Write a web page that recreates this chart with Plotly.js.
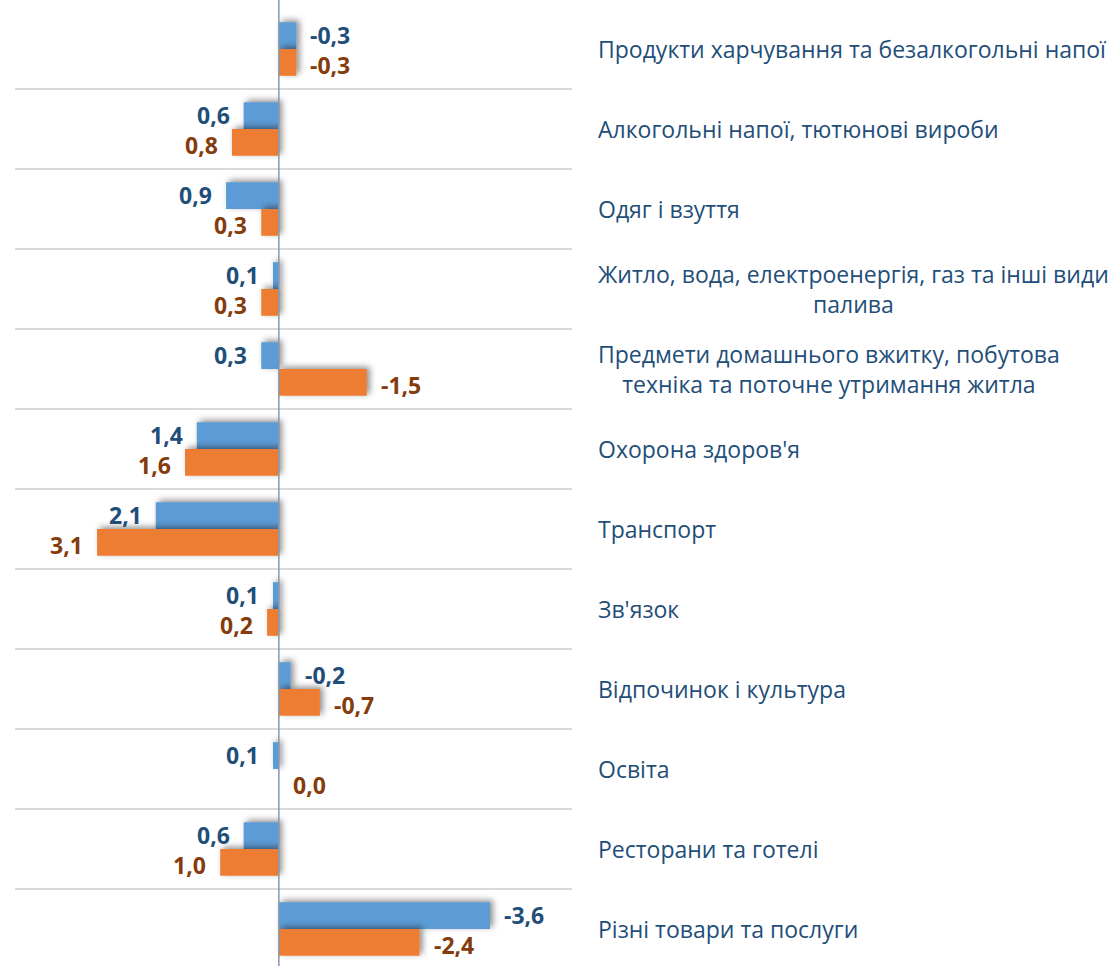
<!DOCTYPE html>
<html>
<head>
<meta charset="utf-8">
<script src="https://cdn.plot.ly/plotly-3.0.1.min.js"></script>
<style>
  html, body { margin: 0; padding: 0; overflow: hidden; background: #fff; }
  #chart .trace.bars .point path { filter: url(#barShadow); }
</style>
</head>
<body>
<svg width="0" height="0" style="position:absolute">
  <defs>
    <filter id="barShadow" filterUnits="userSpaceOnUse" x="-50" y="-50" width="1200" height="1100">
      <feDropShadow dx="3" dy="-2" stdDeviation="3" flood-color="#000" flood-opacity="0.45"/>
    </filter>
  </defs>
</svg>
<div id="chart"></div>
<script>
var categories = [
  "Продукти харчування та безалкогольні напої",
  "Алкогольні напої, тютюнові вироби",
  "Одяг і взуття",
  "Житло, вода, електроенергія, газ та інші види<br>палива",
  "Предмети домашнього вжитку, побутова<br>техніка та поточне утримання житла",
  "Охорона здоров'я",
  "Транспорт",
  "Зв'язок",
  "Відпочинок і культура",
  "Освіта",
  "Ресторани та готелі",
  "Різні товари та послуги"
];
var blueValues = [-0.3, 0.6, 0.9, 0.1, 0.3, 1.4, 2.1, 0.1, -0.2, 0.1, 0.6, -3.6];
var orangeValues = [-0.3, 0.8, 0.3, 0.3, -1.5, 1.6, 3.1, 0.2, -0.7, 0.0, 1.0, -2.4];

var font = "Open Sans, sans-serif";

var data = [
  {
    type: "bar",
    orientation: "h",
    y: categories,
    x: blueValues,
    marker: { color: "#5B9BD5" },
    hoverinfo: "skip"
  },
  {
    type: "bar",
    orientation: "h",
    y: categories,
    x: orangeValues,
    marker: { color: "#ED7D31" },
    hoverinfo: "skip"
  }
];

// value labels: positive values point left (reversed axis)
function valueLabels(vals, color, yshift) {
  return vals.map(function (v, i) {
    var left = v > 0;
    return {
      xref: "x", yref: "y",
      x: v, y: categories[i],
      xanchor: left ? "right" : "left",
      yanchor: "middle",
      xshift: left ? -12 : 12,
      yshift: yshift,
      text: v.toFixed(1).replace(".", ","),
      showarrow: false,
      font: { family: font, size: 23, color: color, weight: "bold" }
    };
  });
}

var catLabels = categories.map(function (c) {
  return {
    xref: "paper", yref: "y",
    x: 1.043, y: c,
    xanchor: "left", yanchor: "middle",
    align: "center",
    text: c,
    showarrow: false,
    font: { family: font, size: 23, color: "#1F4E79" }
  };
});

var layout = {
  width: 1114, height: 969,
  margin: { l: 15, r: 542, t: 9, b: 0 },
  paper_bgcolor: "#ffffff",
  plot_bgcolor: "#ffffff",
  barmode: "group",
  bargap: 0.33,
  bargroupgap: 0,
  showlegend: false,
  xaxis: {
    range: [4.5, -5.0],
    showticklabels: false,
    showgrid: false,
    zeroline: false,
    fixedrange: true
  },
  yaxis: {
    type: "category",
    autorange: "reversed",
    tickson: "boundaries",
    showgrid: true,
    gridcolor: "#D9D9D9",
    gridwidth: 1.5,
    showticklabels: false,
    ticks: "",
    zeroline: false,
    fixedrange: true
  },
  shapes: [
    {
      type: "line", xref: "x", yref: "paper",
      x0: 0, x1: 0, y0: -0.02, y1: 1.02,
      line: { color: "#8497B0", width: 1.5 }
    }
  ],
  annotations: catLabels
    .concat(valueLabels(blueValues, "#1F4E79", 14))
    .concat(valueLabels(orangeValues, "#843C0C", -16))
};

var config = { displayModeBar: false, responsive: false, staticPlot: true };

Plotly.newPlot("chart", data, layout, config);
</script>
</body>
</html>
